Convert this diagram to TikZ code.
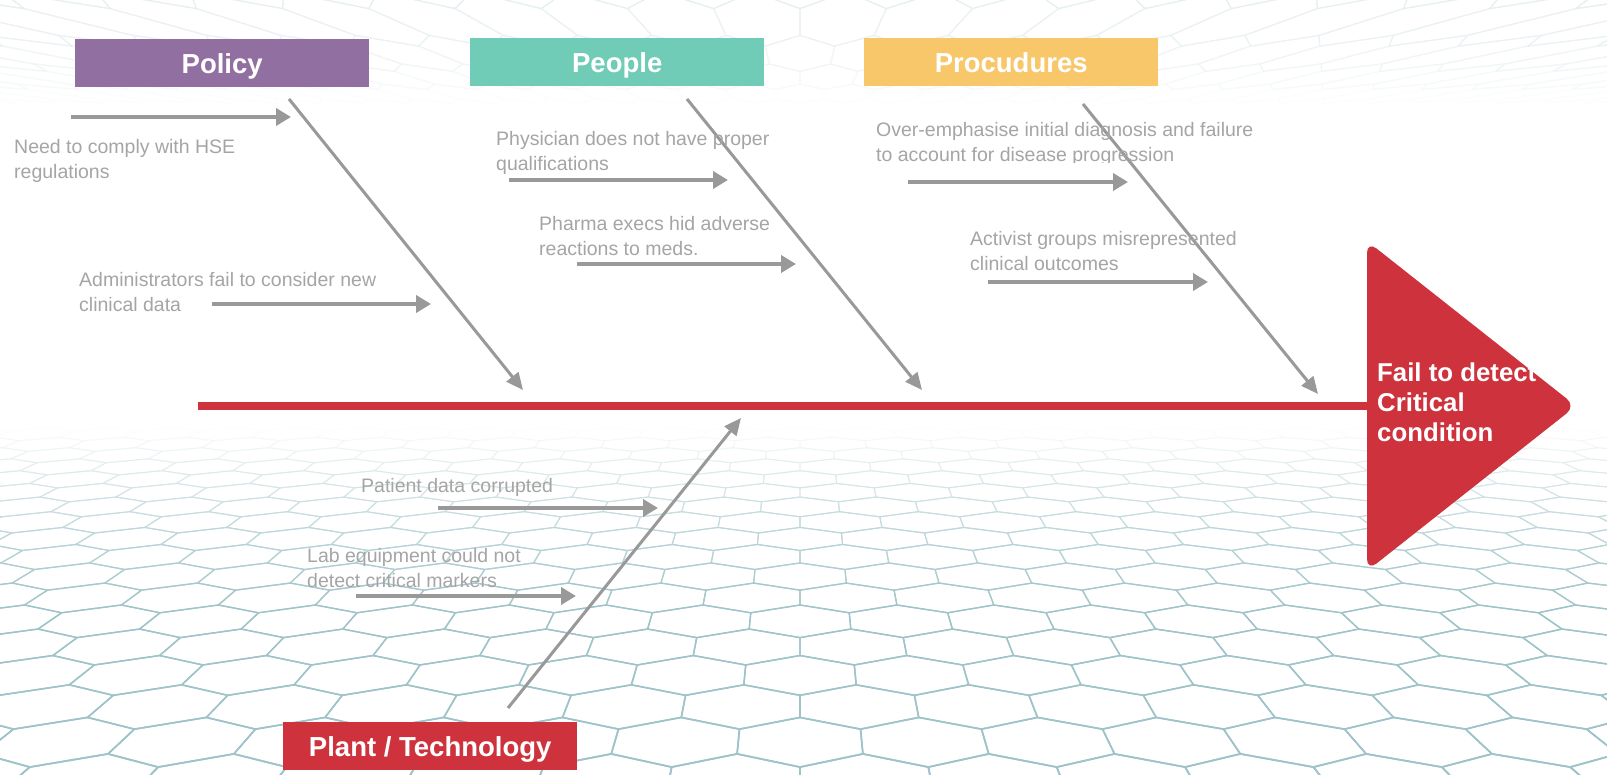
\documentclass[tikz,border=0pt]{standalone}
\usepackage{fontspec}
\setmainfont{Liberation Sans}
\usetikzlibrary{arrows.meta}
\definecolor{policycol}{RGB}{146,111,161}
\definecolor{peoplecol}{RGB}{112,204,182}
\definecolor{proccol}{RGB}{247,199,106}
\definecolor{redcol}{RGB}{206,51,61}
\definecolor{arrowgray}{RGB}{153,153,153}
\definecolor{txtgray}{RGB}{165,165,165}
\definecolor{gridcol}{RGB}{158,195,201}
\newcommand\twolines[2]{\parbox[t]{420pt}{\raggedright #1\\#2}}
\begin{document}
\begin{tikzpicture}[x=1pt,y=-1pt,
 catbox/.style={fill=#1, text=white, font=\fontsize{27.5}{33}\selectfont\bfseries, minimum width=294pt, minimum height=48pt, inner sep=0pt, text height=19.7pt, text depth=0pt, anchor=north west},
 causetext/.style={anchor=base west, inner sep=0pt, text=txtgray, font=\fontsize{19.5}{25}\selectfont},
 causearrow/.style={draw=arrowgray, line width=4pt, -{Triangle[length=15pt,width=17pt]}},
 bonearrow/.style={draw=arrowgray, line width=3pt, -{Triangle[length=17pt,width=15pt]}},
 spine/.style={draw=redcol, line width=8pt},
 hexline/.style={line join=round}
]
\useasboundingbox (0,0) rectangle (1607,775);
\fill[white] (0,0) rectangle (1607,775);
% ---------- background hexagon mesh ----------
\begin{scope}
\clip (0,0) rectangle (1607,775);
% floor
\pgfmathsetmacro\hr{0.041}
\pgfmathsetmacro\hh{0.866*\hr}
\pgfmathsetmacro\hw{2*\hh}
\foreach \row in {19,18,...,0} {
  \pgfmathsetmacro\Zc{0.93+\row*1.5*\hr}
  \pgfmathsetmacro\Zt{\Zc+\hr}
  \pgfmathsetmacro\Zu{\Zc+0.5*\hr}
  \pgfmathsetmacro\Zd{\Zc-0.5*\hr}
  \pgfmathsetmacro\Zb{\Zc-\hr}
  \pgfmathsetmacro\yt{105+670/\Zt}
  \pgfmathsetmacro\yu{105+670/\Zu}
  \pgfmathsetmacro\yd{105+670/\Zd}
  \pgfmathsetmacro\yb{105+670/\Zb}
  \pgfmathsetmacro\st{1830/\Zt}
  \pgfmathsetmacro\su{1830/\Zu}
  \pgfmathsetmacro\sd{1830/\Zd}
  \pgfmathsetmacro\sb{1830/\Zb}
  \pgfmathtruncatemacro\N{800*\Zc/1830/\hw+2}
  \pgfmathtruncatemacro\pct{max(0,min(100,(2.06-\Zc)/(2.06-1.3)*100))}
  \pgfmathsetmacro\off{mod(\row,2)*\hh}
  \pgfmathsetmacro\lw{1.7/\Zc}
  \foreach \col in {-\N,...,\N} {
    \pgfmathsetmacro\Xc{\col*\hw+\off}
    \draw[hexline, line width=\lw pt, draw=gridcol!\pct!white]
      ({800+(\Xc)*\st},\yt) -- ({800+(\Xc+\hh)*\su},\yu) -- ({800+(\Xc+\hh)*\sd},\yd)
      -- ({800+(\Xc)*\sb},\yb) -- ({800+(\Xc-\hh)*\sd},\yd) -- ({800+(\Xc-\hh)*\su},\yu) -- cycle;
  }
}
% ceiling
\pgfmathsetmacro\hrt{0.34}
\pgfmathsetmacro\hht{0.866*\hrt}
\pgfmathsetmacro\hwt{2*\hht}
\foreach \row in {5,4,...,0} {
  \pgfmathsetmacro\Zc{1.75+\row*1.5*\hrt}
  \pgfmathsetmacro\Zt{\Zc+\hrt}
  \pgfmathsetmacro\Zu{\Zc+0.5*\hrt}
  \pgfmathsetmacro\Zd{\Zc-0.5*\hrt}
  \pgfmathsetmacro\Zb{\Zc-\hrt}
  \pgfmathsetmacro\yt{200-400/\Zt}
  \pgfmathsetmacro\yu{200-400/\Zu}
  \pgfmathsetmacro\yd{200-400/\Zd}
  \pgfmathsetmacro\yb{200-400/\Zb}
  \pgfmathsetmacro\st{306/\Zt}
  \pgfmathsetmacro\su{306/\Zu}
  \pgfmathsetmacro\sd{306/\Zd}
  \pgfmathsetmacro\sb{306/\Zb}
  \pgfmathtruncatemacro\N{800*\Zc/306/\hwt+2}
  \pgfmathtruncatemacro\pct{max(0,min(100,(4.1-\Zc)/(4.1-2)*24))}
  \pgfmathsetmacro\off{mod(\row,2)*\hht}
  \foreach \col in {-\N,...,\N} {
    \pgfmathsetmacro\Xc{\col*\hwt+\off}
    \draw[hexline, line width=1.1pt, draw=gridcol!\pct!white]
      ({800+(\Xc)*\st},\yt) -- ({800+(\Xc+\hht)*\su},\yu) -- ({800+(\Xc+\hht)*\sd},\yd)
      -- ({800+(\Xc)*\sb},\yb) -- ({800+(\Xc-\hht)*\sd},\yd) -- ({800+(\Xc-\hht)*\su},\yu) -- cycle;
  }
}
\end{scope}
% ---------- category boxes ----------
\node[catbox=policycol] (policy) at (75,39) {Policy};
\node[catbox=peoplecol] (people) at (470,38) {People};
\node[catbox=proccol] (proc) at (864,38) {Procudures};
\node[catbox=redcol] (plant) at (283,722) {Plant / Technology};
% ---------- head ----------
\fill[redcol, rounded corners=12pt] (1367,241) -- (1576,406) -- (1367,571) -- cycle;
\coordinate (headl) at (1368,406);
\coordinate (tail) at (198,406);
\draw[spine] (tail) -- (headl);
\node[anchor=base west, inner sep=0pt, text=white, font=\fontsize{25.8}{30}\selectfont\bfseries] (effect) at (1377,382) {\parbox[t]{200pt}{Fail to detect\\Critical\\condition}};
% ---------- bones ----------
\coordinate (b1s) at (289,99);   \coordinate (b1e) at (523,390);
\coordinate (b2s) at (687,99);   \coordinate (b2e) at (922,390);
\coordinate (b3s) at (1083,104); \coordinate (b3e) at (1318,394);
\coordinate (b4s) at (508,708);  \coordinate (b4e) at (741,418);
\draw[bonearrow] (b1s) -- (b1e);
\draw[bonearrow] (b2s) -- (b2e);
\draw[bonearrow] (b3s) -- (b3e);
\draw[bonearrow] (b4s) -- (b4e);
% ---------- cause arrows ----------
\coordinate (c1s) at (71,117);  \coordinate (c1e) at (291,117);
\coordinate (c2s) at (212,304); \coordinate (c2e) at (431,304);
\coordinate (c3s) at (509,180); \coordinate (c3e) at (728,180);
\coordinate (c4s) at (577,264); \coordinate (c4e) at (796,264);
\coordinate (c5s) at (908,182); \coordinate (c5e) at (1128,182);
\coordinate (c6s) at (988,282); \coordinate (c6e) at (1208,282);
\coordinate (c7s) at (438,508); \coordinate (c7e) at (658,508);
\coordinate (c8s) at (356,596); \coordinate (c8e) at (576,596);
\foreach \i in {1,...,8} { \draw[causearrow] (c\i s) -- (c\i e); }
% ---------- cause texts ----------
\node[causetext] (t1) at (14,154) {\twolines{Need to comply with HSE}{regulations}};
\node[causetext] (t2) at (79,287) {\twolines{Administrators fail to consider new}{clinical data}};
\node[causetext] (t3) at (496,146) {\twolines{Physician does not have proper}{qualifications}};
\node[causetext] (t4) at (539,231) {\twolines{Pharma execs hid adverse}{reactions to meds.}};
\begin{scope}
\clip (850,100) rectangle (1320,163);
\node[causetext] (t5) at (876,137) {\twolines{Over-emphasise initial diagnosis and failure}{to account for disease progression}};
\end{scope}
\node[causetext] (t6) at (970,246) {\twolines{Activist groups misrepresented}{clinical outcomes}};
\node[causetext] (t7) at (361,493) {Patient data corrupted};
\node[causetext] (t8) at (307,562) {\twolines{Lab equipment could not}{detect critical markers}};
\end{tikzpicture}
\end{document}
